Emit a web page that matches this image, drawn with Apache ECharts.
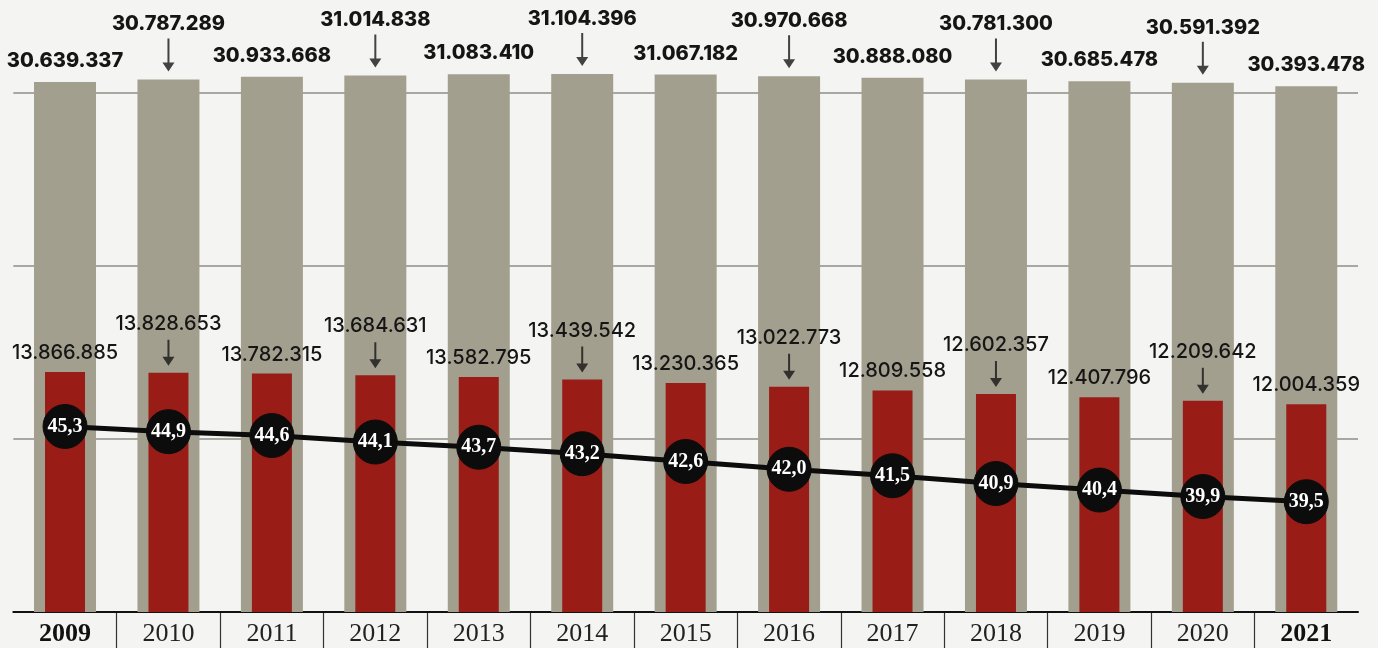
<!DOCTYPE html>
<html>
<head>
<meta charset="utf-8">
<script src="https://cdn.jsdelivr.net/npm/echarts@6/dist/echarts.min.js"></script>
<style>
html,body{margin:0;padding:0;background:#f4f4f2;}
#c{width:1378px;height:648px;}
</style>
</head>
<body>
<div id="c"></div>
<script>
const years = ['2009','2010','2011','2012','2013','2014','2015','2016','2017','2018','2019','2020','2021'];
const totals = [30639337,30787289,30933668,31014838,31083410,31104396,31067182,30970668,30888080,30781300,30685478,30591392,30393478];
const subset = [13866885,13828653,13782315,13684631,13582795,13439542,13230365,13022773,12809558,12602357,12407796,12209642,12004359];
const shares = [45.3,44.9,44.6,44.1,43.7,43.2,42.6,42.0,41.5,40.9,40.4,39.9,39.5];

const fmt = v => String(v).replace(/\B(?=(\d{3})+(?!\d))/g, '.');
const last = years.length - 1;
const GREY = '#a39f8f', RED = '#991c16';
const arrowGrey = 'path://M5,0 L7,0 L7,24 L12,24 L6,33 L0,24 L5,24 Z';
const arrowRed = 'path://M5,0 L7,0 L7,17 L12,17 L6,26 L0,17 L5,17 Z';

const chart = echarts.init(document.getElementById('c'));
chart.setOption({
  backgroundColor: '#f4f4f2',
  animation: false,
  grid: [
    {left: 13.3, right: 20, top: 93, bottom: 36},
    {left: 13.3, right: 20, top: 612, bottom: 0}
  ],
  xAxis: [
    {type: 'category', data: years, gridIndex: 0,
     axisLine: {lineStyle: {color: '#111', width: 2}},
     axisTick: {show: false},
     axisLabel: {interval: 0, margin: 9, fontFamily: 'Liberation Serif', fontSize: 26, color: '#222',
       formatter: (v, i) => (i === 0 || i === last) ? '{b|' + v + '}' : v,
       rich: {b: {fontWeight: 'bold', fontFamily: 'Liberation Serif', fontSize: 26, color: '#111'}}}},
    {type: 'category', data: years, gridIndex: 0, show: false},
    {type: 'value', gridIndex: 1, min: 0, max: 13, interval: 1,
     axisLine: {show: false}, axisTick: {show: false}, axisLabel: {show: false},
     splitLine: {show: true, showMinLine: false, showMaxLine: false, lineStyle: {color: '#333', width: 1.2}}}
  ],
  yAxis: [
    {type: 'value', gridIndex: 0, min: 0, max: 30000000, interval: 10000000,
     axisLine: {show: false}, axisTick: {show: false}, axisLabel: {show: false},
     splitLine: {showMinLine: false, lineStyle: {color: '#8f8e86', width: 1.5}}},
    {type: 'value', gridIndex: 0, min: 31, max: 71, show: false, splitLine: {show: false}},
    {type: 'value', gridIndex: 1, min: 0, max: 1, show: false}
  ],
  series: [
    {type: 'bar', xAxisIndex: 0, yAxisIndex: 0, barWidth: 62, clip: false, z: 2,
     itemStyle: {color: GREY},
     label: {show: true, position: 'top', fontFamily: 'Inter', fontWeight: 800, fontSize: 20, color: '#151515',
       formatter: p => fmt(p.value)},
     data: totals.map((v, i) => ({value: v, label: {distance: i % 2 ? 45 : 11}}))},
    {type: 'bar', xAxisIndex: 1, yAxisIndex: 0, barWidth: 40, clip: false, z: 3,
     itemStyle: {color: RED},
     label: {show: true, position: 'top', fontFamily: 'Inter', fontWeight: 500, fontSize: 20, color: '#151515',
       formatter: p => fmt(p.value)},
     data: subset.map((v, i) => ({value: v, label: {distance: i % 2 ? 39 : 9}}))},
    {type: 'scatter', xAxisIndex: 0, yAxisIndex: 0, clip: false, z: 4, silent: true,
     symbol: arrowGrey, symbolSize: [12, 33], symbolOffset: [0, -24.5],
     itemStyle: {color: '#151515'},
     data: totals.map((v, i) => i % 2 ? v : '-')},
    {type: 'scatter', xAxisIndex: 0, yAxisIndex: 0, clip: false, z: 4, silent: true,
     symbol: arrowRed, symbolSize: [12, 26], symbolOffset: [0, -20],
     itemStyle: {color: '#151515'},
     data: subset.map((v, i) => i % 2 ? v : '-')},
    {type: 'line', xAxisIndex: 0, yAxisIndex: 1, z: 6, symbol: 'circle', symbolSize: 44,
     lineStyle: {color: '#0c0c0c', width: 5},
     itemStyle: {color: '#0c0c0c', borderColor: '#0c0c0c'},
     label: {show: true, position: 'inside', fontFamily: 'Liberation Serif', fontWeight: 'bold', fontSize: 20, color: '#ffffff',
       formatter: p => p.value.toFixed(1).replace('.', ',')},
     data: shares}
  ]
});
</script>
</body>
</html>
